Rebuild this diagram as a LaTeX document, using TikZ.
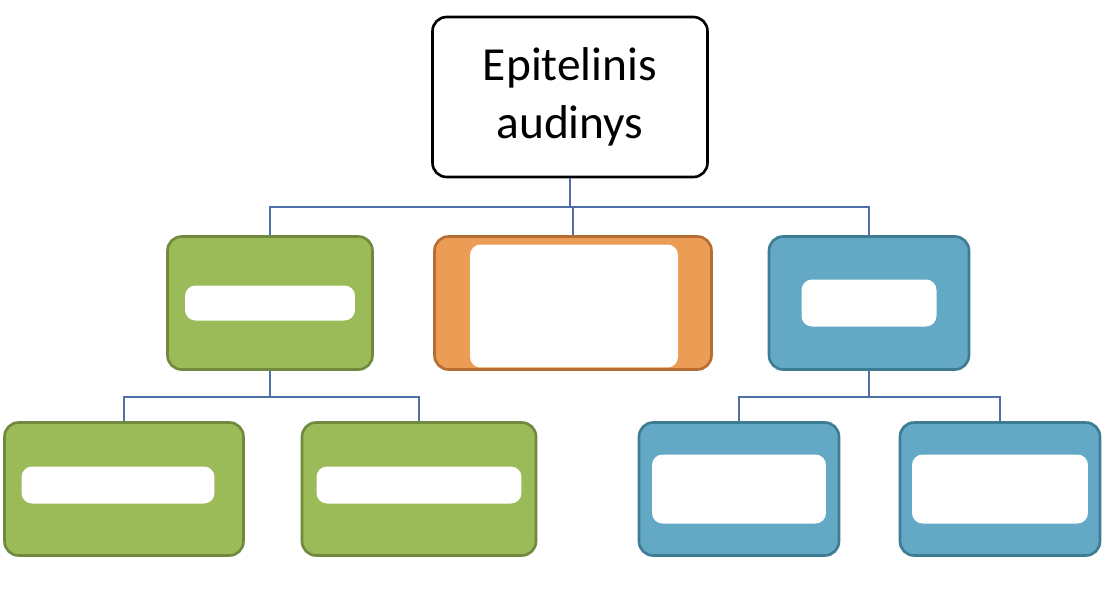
\documentclass[tikz,border=0pt]{standalone}
\usepackage{fontspec}
\setmainfont{Carlito}
\usetikzlibrary{positioning}
\definecolor{grn}{HTML}{9BBB59}
\definecolor{grnd}{HTML}{71893F}
\definecolor{org}{HTML}{EB9C55}
\definecolor{orgd}{HTML}{B66D31}
\definecolor{blu}{HTML}{63A9C5}
\definecolor{blud}{HTML}{3E7C94}
\definecolor{lnk}{HTML}{4F6FA6}
\begin{document}
\begin{tikzpicture}[x=0.02cm,y=-0.02cm,
  box/.style={draw,rounded corners=8pt,line width=1.5pt,inner sep=0pt},
  green box/.style={box,fill=grn,draw=grnd,minimum width=4.1cm,minimum height=2.66cm},
  blue box/.style={box,fill=blu,draw=blud,minimum width=4.0cm,minimum height=2.66cm},
  blot/.style={fill=white,rounded corners=6pt,inner sep=0pt},
  link/.style={draw=lnk,line width=1.5pt}]
  \useasboundingbox (0,0) rectangle (1105,589);

  % top
  \node[box,fill=white,draw=black,minimum width=5.5cm,minimum height=3.2cm,
        align=center,font=\fontsize{27}{33}\selectfont] (top) at (570,97) {Epitelinis\\audinys};

  % second row
  \node[green box] (g1) at (270,303) {};
  \node[box,fill=org,draw=orgd,minimum width=5.54cm,minimum height=2.66cm] (o1) at (573,303) {};
  \node[blue box] (b1) at (869,303) {};

  % third row
  \node[green box,minimum width=4.78cm] (g2) at (124,489) {};
  \node[green box,minimum width=4.68cm] (g3) at (419,489) {};
  \node[blue box] (b2) at (739,489) {};
  \node[blue box] (b3) at (1000,489) {};

  % white blots
  \node[blot,minimum width=3.4cm,minimum height=0.7cm] at (g1) {};
  \node[blot,minimum width=4.16cm,minimum height=2.46cm] at (574,306) {};
  \node[blot,minimum width=2.7cm,minimum height=0.94cm] at (b1) {};
  \node[blot,minimum width=3.86cm,minimum height=0.74cm] at (118,485) {};
  \node[blot,minimum width=4.1cm,minimum height=0.74cm] at (419,485) {};
  \node[blot,minimum width=3.48cm,minimum height=1.38cm] at (739,489) {};
  \node[blot,minimum width=3.52cm,minimum height=1.38cm] at (1000,489) {};

  % connectors
  \coordinate (j1) at (570,207);
  \coordinate (j2) at (270,397);
  \coordinate (j3) at (869,397);
  \path[link] (top.south) -- (j1);
  \path[link] (j1) -| (g1.north);
  \path[link] (j1) -| (b1.north);
  \path[link] (j1) -| (o1.north);
  \path[link] (g1.south) -- (j2);
  \path[link] (j2) -| (g2.north);
  \path[link] (j2) -| (g3.north);
  \path[link] (b1.south) -- (j3);
  \path[link] (j3) -| (b2.north);
  \path[link] (j3) -| (b3.north);
\end{tikzpicture}
\end{document}
